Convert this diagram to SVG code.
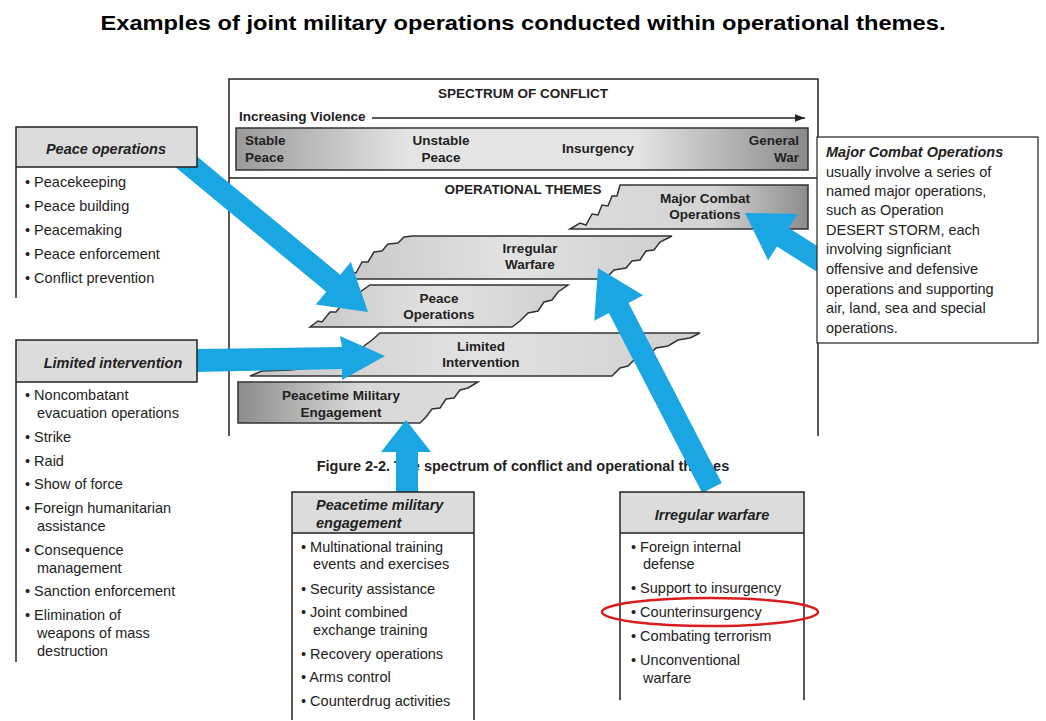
<svg xmlns="http://www.w3.org/2000/svg" width="1046" height="721" viewBox="0 0 1046 721">
<defs>
<linearGradient id="bar" x1="0" x2="1" y1="0" y2="0"><stop offset="0" stop-color="#9a9a9a"/><stop offset="0.3" stop-color="#e4e4e4"/><stop offset="0.7" stop-color="#e4e4e4"/><stop offset="1" stop-color="#8a8a8a"/></linearGradient>
<linearGradient id="shp" x1="0" x2="1" y1="0" y2="0"><stop offset="0" stop-color="#c8c8c8"/><stop offset="0.5" stop-color="#e2e2e2"/><stop offset="1" stop-color="#cfcfcf"/></linearGradient>
<linearGradient id="mco" x1="0" x2="1" y1="0" y2="0"><stop offset="0" stop-color="#dcdcdc"/><stop offset="0.6" stop-color="#d4d4d4"/><stop offset="1" stop-color="#8c8c8c"/></linearGradient>
<linearGradient id="pme" x1="0" x2="1" y1="0" y2="0"><stop offset="0" stop-color="#8c8c8c"/><stop offset="0.5" stop-color="#d8d8d8"/><stop offset="1" stop-color="#dcdcdc"/></linearGradient>
<marker id="ah" markerWidth="8" markerHeight="6" refX="8" refY="3" orient="auto"><path d="M0,0L8,3L0,6z" fill="#222"/></marker>
</defs>
<style>
text{font-family:"Liberation Sans",Arial,sans-serif;fill:#222}
.it{font-size:14.5px}
.hd{font-size:14.5px;font-weight:bold;font-style:italic}
.fb{font-weight:bold;font-size:13.5px;fill:#222}
.shape{stroke:#333;stroke-width:1.5}
.arr{fill:#1aa6e2}
.frame{fill:none;stroke:#222;stroke-width:1.5}
</style>
<rect width="1046" height="721" fill="#fff"/>
<text x="523" y="30" text-anchor="middle" font-size="20" font-weight="bold" textLength="845" lengthAdjust="spacingAndGlyphs" style="fill:#000">Examples of joint  military operations conducted within operational themes.</text>

<g id="figure">
<path class="frame" d="M229,436V79H818V436M229,178H818"/>
<text x="523" y="98" text-anchor="middle" class="fb" font-size="13">SPECTRUM OF CONFLICT</text>
<text x="239" y="121" class="fb" font-size="12">Increasing Violence</text>
<line x1="372" y1="118" x2="805" y2="118" stroke="#222" stroke-width="1.3" marker-end="url(#ah)"/>
<rect x="236" y="128" width="572" height="42" fill="url(#bar)" stroke="#333" stroke-width="1.5"/>
<text class="fb" x="245" y="145">Stable</text><text class="fb" x="245" y="162">Peace</text>
<text class="fb" x="441" y="145" text-anchor="middle">Unstable</text><text class="fb" x="441" y="162" text-anchor="middle">Peace</text>
<text class="fb" x="598" y="153" text-anchor="middle">Insurgency</text>
<text class="fb" x="799" y="145" text-anchor="end">General</text><text class="fb" x="799" y="162" text-anchor="end">War</text>
<text x="523" y="194" text-anchor="middle" class="fb">OPERATIONAL THEMES</text>
</g>

<g id="major-combat-shape">
<path class="shape" fill="url(#mco)" d="M620,185H808V229H570L580,223L586,225L592,214L598,215L602,205L608,206L612,196L617,196Z"/>
<text class="fb" x="705" y="203" text-anchor="middle">Major Combat</text><text class="fb" x="705" y="219" text-anchor="middle">Operations</text>
</g>
<g id="irregular-shape">
<path class="shape" fill="url(#shp)" d="M412,236H672L660,242L654,250L646,251L640,260L632,261L626,268L614,270L606,278L600,279H345L352,272L356,273L362,262L368,262L374,252L382,251L388,244L398,243L404,237Z"/>
<text class="fb" x="530" y="253" text-anchor="middle">Irregular</text><text class="fb" x="530" y="269" text-anchor="middle">Warfare</text>
</g>
<g id="peace-ops-shape">
<path class="shape" fill="url(#shp)" d="M370,285H568L558,292L552,300L544,302L538,311L528,313L520,321L512,327H310L318,321L322,322L330,312L336,312L344,302L352,301L360,292Z"/>
<text class="fb" x="439" y="303" text-anchor="middle">Peace</text><text class="fb" x="439" y="319" text-anchor="middle">Operations</text>
</g>
<g id="limited-shape">
<path class="shape" fill="url(#shp)" d="M380,333H700L690,338L678,340L668,346L656,348L648,356L636,358L628,366L620,368L612,376H250L262,371L290,370L320,367L340,362L356,356L364,346L372,340Z"/>
<text class="fb" x="481" y="351" text-anchor="middle">Limited</text><text class="fb" x="481" y="367" text-anchor="middle">Intervention</text>
</g>
<g id="peacetime-shape">
<path class="shape" fill="url(#pme)" d="M238,382H478L468,388L460,390L454,398L446,399L440,408L432,409L426,417L420,423H238Z"/>
<text class="fb" x="341" y="400" text-anchor="middle">Peacetime Military</text><text class="fb" x="341" y="417" text-anchor="middle">Engagement</text>
</g>
<text x="523" y="471" text-anchor="middle" font-size="14.5" font-weight="bold">Figure 2-2. The spectrum of conflict and operational themes</text>

<g id="connectors">
<polygon class="arr" points="165,158.5 326.3,291.8 315.8,304.5 368,312 350.8,262.1 340.3,274.8 179,141.5"/>
<polygon class="arr" points="195,349 342,347 340,336 385,356 342,380 342,369 195,372"/>
<polygon class="arr" points="396,492 396,452 381,452 406,420 431,452 418,452 418,492"/>
<polygon class="arr" points="721.8,482.9 628.5,302.9 643.1,295.3 598,268 594.3,320.7 608.9,313.1 702.2,493.1"/>
<polygon class="arr" points="827.9,252.7 788.8,227.9 797.7,214 745,213 768.1,260.4 777,246.5 816.1,271.3"/>
</g>

<g id="peace-operations">
<rect x="16" y="127" width="181" height="40" fill="#dcdcdc"/>
<path class="frame" d="M16,298V127H197V167H16"/>
<text class="hd" x="106" y="154" text-anchor="middle">Peace operations</text>
<g class="it"><text x="25" y="187">• Peacekeeping</text><text x="25" y="211">• Peace building</text><text x="25" y="235">• Peacemaking</text><text x="25" y="259">• Peace enforcement</text><text x="25" y="283">• Conflict prevention</text></g>
</g>

<g id="limited-intervention">
<rect x="16" y="340" width="181" height="42" fill="#dcdcdc"/>
<path class="frame" d="M16,662V340H197V382H16"/>
<text class="hd" x="113" y="368" text-anchor="middle">Limited intervention</text>
<g class="it"><text x="25" y="400">• Noncombatant</text><text x="37" y="418">evacuation operations</text><text x="25" y="442">• Strike</text><text x="25" y="466">• Raid</text><text x="25" y="489">• Show of force</text><text x="25" y="513">• Foreign humanitarian</text><text x="37" y="531">assistance</text><text x="25" y="555">• Consequence</text><text x="37" y="573">management</text><text x="25" y="596">• Sanction enforcement</text><text x="25" y="620">• Elimination of</text><text x="37" y="638">weapons of mass</text><text x="37" y="656">destruction</text></g>
</g>

<g id="peacetime-engagement">
<rect x="292" y="492" width="182" height="41" fill="#dcdcdc"/>
<path class="frame" d="M292,720V492H474V720M292,533H474"/>
<text class="hd" x="316" y="510">Peacetime military</text><text class="hd" x="316" y="528">engagement</text>
<g class="it"><text x="301" y="552">• Multinational training</text><text x="313" y="569">events and exercises</text><text x="301" y="594">• Security assistance</text><text x="301" y="617">• Joint combined</text><text x="313" y="635">exchange training</text><text x="301" y="659">• Recovery operations</text><text x="301" y="682">• Arms control</text><text x="301" y="706">• Counterdrug activities</text></g>
</g>

<g id="irregular-warfare">
<rect x="620" y="492" width="184" height="41" fill="#dcdcdc"/>
<path class="frame" d="M620,700V492H804V700M620,533H804"/>
<text class="hd" x="712" y="520" text-anchor="middle">Irregular warfare</text>
<g class="it"><text x="631" y="552">• Foreign internal</text><text x="643" y="569">defense</text><text x="631" y="593">• Support to insurgency</text><text x="631" y="617">• Counterinsurgency</text><text x="631" y="641">• Combating terrorism</text><text x="631" y="665">• Unconventional</text><text x="643" y="683">warfare</text></g>
<ellipse cx="710" cy="612" rx="108" ry="14" fill="none" stroke="#d81e1e" stroke-width="2.5"/>
</g>

<g id="major-combat-note">
<rect x="817" y="137" width="221" height="206" fill="#fff" stroke="#222" stroke-width="1.2"/>
<text class="hd" x="826" y="157">Major Combat Operations</text>
<g class="it"><text x="826" y="177">usually involve a series of</text><text x="826" y="196">named major  operations,</text><text x="826" y="215">such as Operation</text><text x="826" y="235">DESERT STORM,  each</text><text x="826" y="254">involving signficiant</text><text x="826" y="274">offensive and defensive</text><text x="826" y="294">operations and supporting</text><text x="826" y="313">air, land, sea and special</text><text x="826" y="333">operations.</text></g>
</g>
</svg>
